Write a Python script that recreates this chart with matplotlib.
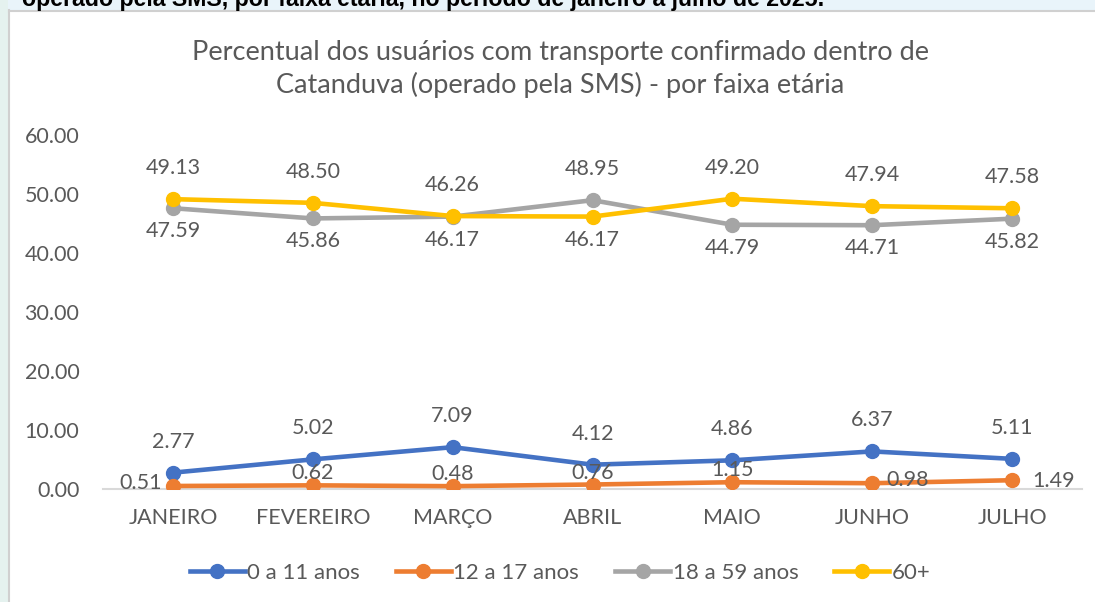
import matplotlib
matplotlib.use("Agg")
import matplotlib.pyplot as plt
from matplotlib.patches import Rectangle
from matplotlib.lines import Line2D

months = ["JANEIRO", "FEVEREIRO", "MARÇO", "ABRIL", "MAIO", "JUNHO", "JULHO"]
s_0_11 = [2.77, 5.02, 7.09, 4.12, 4.86, 6.37, 5.11]
s_12_17 = [0.51, 0.62, 0.48, 0.76, 1.15, 0.98, 1.49]
s_18_59 = [47.59, 45.86, 46.17, 48.95, 44.79, 44.71, 45.82]
s_60 = [49.13, 48.50, 46.26, 46.17, 49.20, 47.94, 47.58]
series_names = ["0 a 11 anos", "12 a 17 anos", "18 a 59 anos", "60+"]
yticks = [0, 10, 20, 30, 40, 50, 60]
title = "Percentual dos usuários com transporte confirmado dentro de\nCatanduva (operado pela SMS) - por faixa etária"
header = "operado pela SMS, por faixa etária, no período de janeiro a julho de 2025."

colors = ["#4472C4", "#ED7D31", "#A5A5A5", "#FFC000"]
TXT = "#595959"
FONT = "Lato"

# label placement per series (style)
pos = [
    ["a"] * 7,
    ["l", "a2", "a2", "a2", "a2", "r", "r"],
    ["b", "b", "b", "a", "b", "b", "b"],
    ["a", "a", "a", "b", "a", "a", "a"],
]

W, H = 1095, 602
fig = plt.figure(figsize=(W / 100, H / 100), dpi=100)
fig.patch.set_facecolor("white")
plt.rcParams["font.family"] = [FONT, "DejaVu Sans"]

# background strips
fig.add_artist(Rectangle((0, (H - 10) / H), 1, 10 / H, transform=fig.transFigure,
                         facecolor="#E9F4FA", edgecolor="none", zorder=0))
fig.add_artist(Rectangle((0, 0), 8 / W, 1, transform=fig.transFigure,
                         facecolor="#E5F2EF", edgecolor="none", zorder=0))
fig.add_artist(Line2D([8.5 / W, 8.5 / W], [0, (H - 10) / H], transform=fig.transFigure,
                      color="#D0D0D0", lw=1.5))
fig.add_artist(Line2D([8.5 / W, 1], [(H - 10.5) / H, (H - 10.5) / H], transform=fig.transFigure,
                      color="#D0D0D0", lw=1.5))
fig.text(22 / W, (H - 6) / H, header, fontsize=16.7, fontweight="bold", color="black",
         family=["Liberation Sans Narrow", "Liberation Sans", "DejaVu Sans"], va="baseline", ha="left")

ax = fig.add_axes([103 / W, (H - 489) / H, (1082 - 103) / W, (489 - 135) / H])
ax.set_facecolor("none")
x = list(range(len(months)))
data = [s_0_11, s_12_17, s_18_59, s_60]
for i in [2, 3, 0, 1]:
    ax.plot(x, data[i], color=colors[i], lw=3.3, marker="o", markersize=10,
            solid_capstyle="round", label=series_names[i], zorder=3 + i)

LBL = 15.5
for i, ser in enumerate(data):
    for j, v in enumerate(ser):
        p = pos[i][j]
        if p == "a":
            off, ha, va = (0, 31), "center", "center"
        elif p == "a2":
            off, ha, va = (0, 12), "center", "center"
        elif p == "b":
            off, ha, va = (0, -23), "center", "center"
        elif p == "l":
            off, ha, va = (-11, 3), "right", "center"
        else:
            off, ha, va = (14, 3) if j == 5 else (20, -1), "left", "center"
        ax.annotate(f"{v:.2f}", (j, v), xytext=off, textcoords="offset pixels",
                    ha=ha, va=va, fontsize=LBL, color=TXT, zorder=10)

ax.set_xlim(-0.5, 6.5)
ax.set_ylim(0, 60)
ax.set_yticks(yticks)
ax.set_yticklabels([f"{t:.2f}" for t in yticks])
ax.set_xticks(x)
ax.set_xticklabels(months)
for s in ["top", "right", "left"]:
    ax.spines[s].set_visible(False)
ax.spines["bottom"].set_color("#D9D9D9")
ax.spines["bottom"].set_linewidth(1.5)
ax.tick_params(length=0, labelsize=15.5, colors=TXT)
ax.tick_params(axis="y", pad=17)
ax.tick_params(axis="x", pad=14)

fig.text(560 / W, (H - 69) / H, title, ha="center", va="center", fontsize=19.5,
         color=TXT, linespacing=1.3)

handles = [Line2D([0], [0], color=colors[i], lw=3.3, marker="o", markersize=10) for i in range(4)]
fig.legend(handles, series_names, loc="center", bbox_to_anchor=(560 / W, (H - 573) / H),
           ncol=4, frameon=False, fontsize=16, labelcolor=TXT, handlelength=2.5,
           handletextpad=0.1, columnspacing=1.6)

fig.savefig("out.png", dpi=100, facecolor=fig.get_facecolor())
